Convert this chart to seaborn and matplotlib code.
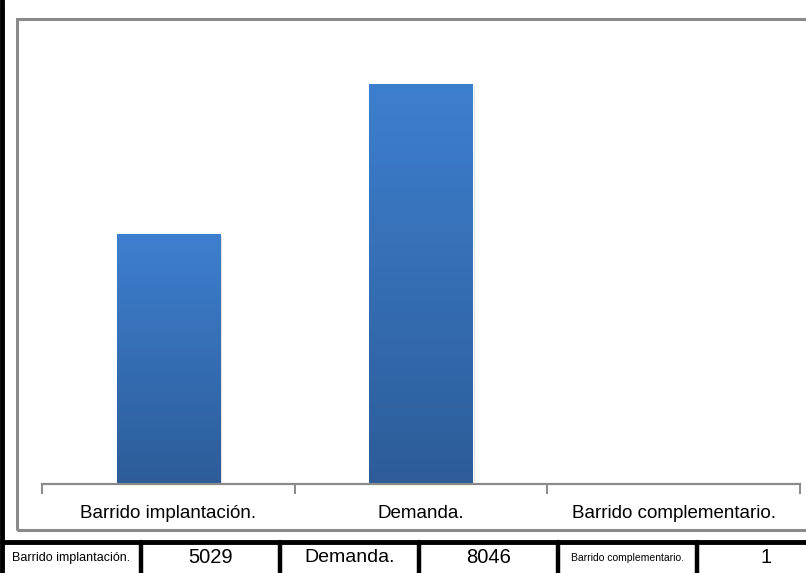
import numpy as np
import pandas as pd
import seaborn as sns
import matplotlib.pyplot as plt
from matplotlib.patches import Rectangle
from matplotlib.lines import Line2D
from matplotlib.colors import LinearSegmentedColormap
import matplotlib.patheffects as pe

# Datos
categorias = ["Barrido implantación.", "Demanda.", "Barrido complementario."]
valores = [5029, 8046, 1]
tam_etiqueta_tabla = [9, 14, 7.5]

sns.set_style("white")
plt.rcParams['font.family'] = ['Liberation Sans Narrow', 'Liberation Sans', 'DejaVu Sans']
plt.rcParams['text.color'] = 'black'
plt.rcParams['xtick.color'] = 'black'

W, H = 806, 573
fig = plt.figure(figsize=(W / 100, H / 100), dpi=100)

def fx(px):
    return px / W

def fy(px):
    return 1 - px / H

# Marco gris del grafico
fig.add_artist(Rectangle((fx(16.5), fy(530)), fx(820) - fx(16.5), fy(18.5) - fy(530),
                         transform=fig.transFigure, fill=False, edgecolor='#8a8a8a', lw=2.2))
# Linea negra izquierda
fig.add_artist(Line2D([fx(2), fx(2)], [0, 1], transform=fig.transFigure, color='black', lw=3.5))

# Area del grafico de barras
ax = fig.add_axes([fx(42), fy(484), fx(800) - fx(42), fy(37) - fy(484)])
df = pd.DataFrame({'categoria': categorias, 'valor': valores})
sns.barplot(data=df, x='categoria', y='valor', color='#3a78c6', width=0.41, ax=ax,
            saturation=1)

# Degradado en las barras
cmap = LinearSegmentedColormap.from_list('azul', ['#2d5c98', '#3d7fcf'])
grad = np.linspace(0, 1, 256).reshape(-1, 1)
for p in ax.patches:
    x0, y0 = p.get_x(), p.get_y()
    w, h = p.get_width(), p.get_height()
    if h <= 0:
        continue
    im = ax.imshow(grad, cmap=cmap, aspect='auto', origin='lower',
                   extent=[x0, x0 + w, y0, y0 + h], zorder=p.get_zorder() + 0.1)
    im.set_clip_path(p)
    p.set_path_effects([pe.SimplePatchShadow(offset=(1.5, -1.5), shadow_rgbFace='#999999', alpha=0.35),
                        pe.Normal()])
ax.set_xlim(-0.5, 2.5)
ax.set_ylim(0, 9000)

for s in ['top', 'right', 'left']:
    ax.spines[s].set_visible(False)
ax.spines['bottom'].set_color('#8a8a8a')
ax.spines['bottom'].set_linewidth(1.6)
ax.set_yticks([])
ax.set_xlabel('')
ax.set_ylabel('')
ax.set_xticks([0, 1, 2])
ax.set_xticklabels(categorias, fontsize=13.5, color='black')
ax.set_xticks([-0.5, 0.5, 1.5, 2.5], minor=True)
ax.tick_params(axis='x', which='major', length=0, pad=15)
ax.tick_params(axis='x', which='minor', length=7, width=1.4, color='#8a8a8a', direction='out',
               bottom=True)
ax.set_facecolor('none')

# Tabla inferior
tax = fig.add_axes([fx(2), fy(600), fx(836) - fx(2), fy(541.5) - fy(600)])
tax.set_xlim(0, 6)
tax.set_ylim(0, 1)
tax.axis('off')
for i, (cat, val) in enumerate(zip(categorias, valores)):
    tax.text(2 * i + 0.5, 0.72, cat, ha='center', va='center', fontsize=tam_etiqueta_tabla[i],
             color='black')
    tax.text(2 * i + 1.5, 0.72, str(val), ha='center', va='center', fontsize=14.5, color='black')
tax.axhline(1, color='black', lw=3.5, clip_on=False)
for k in range(1, 6):
    tax.axvline(k, color='black', lw=3.2, clip_on=False)

fig.savefig('out.png', dpi=100)
